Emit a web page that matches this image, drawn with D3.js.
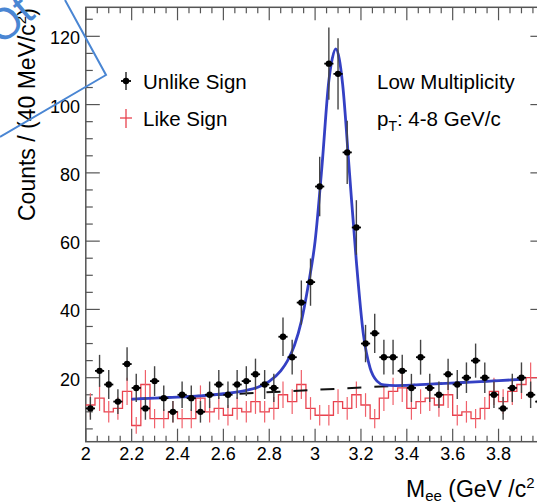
<!DOCTYPE html>
<html>
<head>
<meta charset="utf-8">
<script src="https://cdn.jsdelivr.net/npm/d3@7"></script>
<style>
  body { margin: 0; background: #fff; }
  svg { display: block; font-family: "Liberation Sans", Arial, sans-serif; }
</style>
</head>
<body>
<svg id="chart" width="537" height="503"></svg>
<script>
// bin centres (GeV/c^2), 40 MeV bins
const massBins = [2.02, 2.06, 2.10, 2.14, 2.18, 2.22, 2.26, 2.30, 2.34, 2.38,
                  2.42, 2.46, 2.50, 2.54, 2.58, 2.62, 2.66, 2.70, 2.74, 2.78,
                  2.82, 2.86, 2.90, 2.94, 2.98, 3.02, 3.06, 3.10, 3.14, 3.18,
                  3.22, 3.26, 3.30, 3.34, 3.38, 3.42, 3.46, 3.50, 3.54, 3.58,
                  3.62, 3.66, 3.70, 3.74, 3.78, 3.82, 3.86, 3.90, 3.94, 3.98];
const binHalfWidth = 0.02;

const unlikeSign = [11, 22, 18, 13, 24, 17, 11, 19, 14, 10,
                    15, 14, 10, 15, 18, 15, 18, 19, 21, 18,
                    17, 32, 26, 42, 48, 76, 112, 109, 86, 64,
                    30, 33, 26, 26, 22, 17, 26, 17, 15, 21,
                    18, 20, 25, 20, 15, 11, 17, 20, 15, 13];

const likeSign = [12, 14, 10, 11, 16, 6, 18, 8, 8, 10,
                  8, 8, 14, 10, 11, 9, 11, 10, 13, 10,
                  11, 15, 13, 18, 11, 9, 9, 13, 11, 15,
                  12, 8, 14, 16, 17, 11, 13, 14, 12, 15,
                  9, 10, 8, 11, 16, 13, 16, 18, 20, 20];

// fitted curve
const fitMass   = [2.20, 2.30, 2.40, 2.50, 2.60, 2.70, 2.75, 2.80, 2.85, 2.88,
                   2.91, 2.94, 2.97, 3.00, 3.03, 3.06, 3.075, 3.09, 3.105, 3.12,
                   3.15, 3.18, 3.21, 3.24, 3.27, 3.30, 3.35, 3.50, 3.70, 3.90];
const fitCounts = [13.7, 14.0, 14.3, 14.7, 15.3, 16.3, 17.2, 18.9, 22.0, 25.0,
                   29.5, 36.5, 47, 60, 82, 107, 113.5, 116.3, 113.5, 106,
                   80, 54, 33, 22.8, 19, 17.9, 17.7, 18.1, 18.8, 19.5];

// background component (dashed)
const bgMass   = [2.2, 3.9];
const bgCounts = [13.7, 19.5];

const xTickValues = [2, 2.2, 2.4, 2.6, 2.8, 3, 3.2, 3.4, 3.6, 3.8, 4];
const xTickLabels = ['2', '2.2', '2.4', '2.6', '2.8', '3', '3.2', '3.4', '3.6', '3.8'];
const yTickValues = [20, 40, 60, 80, 100, 120];

const svg = d3.select('#chart');

const x = d3.scaleLinear().domain([2, 4]).range([85.8, 544.4]);
const y = d3.scaleLinear().domain([1.25, 128.5]).range([441.7, 7.3]);

const axisColor = '#555';
const x0 = x.range()[0], x1 = x.range()[1];
const yb = y.range()[0], yt = y.range()[1];

// frame
const frame = svg.append('g');
frame.append('rect')
    .attr('x', x0).attr('y', yt)
    .attr('width', x1 - x0).attr('height', yb - yt)
    .attr('fill', 'none').attr('stroke', axisColor).attr('stroke-width', 1.5);

// x ticks (bottom + top), minor every 0.05
const xMinor = d3.range(2, 4.001, 0.05).map(v => +v.toFixed(2));
xMinor.forEach(v => {
    const major = xTickValues.some(t => Math.abs(t - v) < 1e-6);
    const len = major ? 13 : 6;
    frame.append('line').attr('x1', x(v)).attr('x2', x(v)).attr('y1', yb).attr('y2', yb - len)
        .attr('stroke', axisColor).attr('stroke-width', 1.2);
    frame.append('line').attr('x1', x(v)).attr('x2', x(v)).attr('y1', yt).attr('y2', yt + len)
        .attr('stroke', axisColor).attr('stroke-width', 1.2);
});
// y ticks (left + right), minor every 5
const yMinor = d3.range(5, 126, 5);
yMinor.forEach(v => {
    const major = yTickValues.includes(v);
    const len = major ? 14 : 7;
    frame.append('line').attr('x1', x0).attr('x2', x0 + len).attr('y1', y(v)).attr('y2', y(v))
        .attr('stroke', axisColor).attr('stroke-width', 1.2);
    frame.append('line').attr('x1', x1).attr('x2', x1 - len).attr('y1', y(v)).attr('y2', y(v))
        .attr('stroke', axisColor).attr('stroke-width', 1.2);
});

// tick labels
svg.append('g').selectAll('text')
    .data(xTickLabels)
    .enter().append('text')
    .attr('x', d => x(+d)).attr('y', 460)
    .attr('text-anchor', 'middle')
    .style('font-size', '18px')
    .text(d => d);

svg.append('g').selectAll('text')
    .data(yTickValues)
    .enter().append('text')
    .attr('x', 80).attr('y', d => y(d)).attr('dy', '0.44em')
    .attr('text-anchor', 'end')
    .style('font-size', '18px')
    .text(d => d);

// like-sign histogram (red steps + error bars)
const red = '#e8424e';
const stepPts = massBins.map((m, i) => [m - binHalfWidth, likeSign[i]]);
stepPts.push([massBins[massBins.length - 1] + binHalfWidth, likeSign[likeSign.length - 1]]);
svg.append('path')
    .attr('d', d3.line().x(d => x(d[0])).y(d => y(d[1])).curve(d3.curveStepAfter)(stepPts))
    .attr('fill', 'none').attr('stroke', red).attr('stroke-width', 1.3);
svg.append('g').selectAll('line')
    .data(massBins.map((m, i) => [m, likeSign[i]]))
    .enter().append('line')
    .attr('x1', d => x(d[0])).attr('x2', d => x(d[0]))
    .attr('y1', d => y(d[1] - Math.sqrt(d[1]))).attr('y2', d => y(d[1] + Math.sqrt(d[1])))
    .attr('stroke', '#f0606a').attr('stroke-width', 1.2);

// background (dashed)
svg.append('path')
    .attr('d', d3.line().x((d, i) => x(d)).y((d, i) => y(bgCounts[i]))(bgMass))
    .attr('fill', 'none').attr('stroke', '#111').attr('stroke-width', 2)
    .attr('stroke-dasharray', '14,13');

// fit
svg.append('path')
    .attr('d', d3.line().x(d => x(d)).y((d, i) => y(fitCounts[i])).curve(d3.curveMonotoneX)(fitMass))
    .attr('fill', 'none').attr('stroke', '#3440c4').attr('stroke-width', 2.8);

// unlike-sign points
const pts = svg.append('g').selectAll('g')
    .data(massBins.map((m, i) => [m, unlikeSign[i]]))
    .enter().append('g');
pts.append('line')
    .attr('x1', d => x(d[0])).attr('x2', d => x(d[0]))
    .attr('y1', d => y(d[1] - Math.sqrt(d[1]))).attr('y2', d => y(d[1] + Math.sqrt(d[1])))
    .attr('stroke', '#444').attr('stroke-width', 1.4);
pts.append('line')
    .attr('x1', d => x(d[0] - binHalfWidth)).attr('x2', d => x(d[0] + binHalfWidth))
    .attr('y1', d => y(d[1])).attr('y2', d => y(d[1]))
    .attr('stroke', '#000').attr('stroke-width', 1.8);
pts.append('circle')
    .attr('cx', d => x(d[0])).attr('cy', d => y(d[1])).attr('r', 3.2)
    .attr('fill', '#000');

// legend
const leg = svg.append('g');
leg.append('line').attr('x1', 126).attr('x2', 126).attr('y1', 72).attr('y2', 90).attr('stroke', '#222').attr('stroke-width', 1.4);
leg.append('line').attr('x1', 121).attr('x2', 131).attr('y1', 81).attr('y2', 81).attr('stroke', '#000').attr('stroke-width', 1.8);
leg.append('circle').attr('cx', 126).attr('cy', 81).attr('r', 3.2).attr('fill', '#000');
leg.append('text').attr('x', 143).attr('y', 89).style('font-size', '20.5px').text('Unlike Sign');

leg.append('line').attr('x1', 126).attr('x2', 126).attr('y1', 109).attr('y2', 128).attr('stroke', red).attr('stroke-width', 1.3);
leg.append('line').attr('x1', 120).attr('x2', 132).attr('y1', 118).attr('y2', 118).attr('stroke', red).attr('stroke-width', 1.3);
leg.append('text').attr('x', 143).attr('y', 126).style('font-size', '20.5px').text('Like Sign');

leg.append('text').attr('x', 377).attr('y', 89).style('font-size', '20.5px').text('Low Multiplicity');
const pt = leg.append('text').attr('x', 377).attr('y', 126).style('font-size', '20.5px');
pt.append('tspan').text('p');
pt.append('tspan').attr('dy', 5).style('font-size', '14px').text('T');
pt.append('tspan').attr('dy', -5).text(': 4-8 GeV/c');

// axis titles
const xt = svg.append('text').attr('x', 406).attr('y', 497).style('font-size', '23px');
xt.append('tspan').text('M');
xt.append('tspan').attr('dy', 4).style('font-size', '15px').text('ee');
xt.append('tspan').attr('dy', -4).text(' (GeV /c');
xt.append('tspan').attr('dy', -9).style('font-size', '15px').text('2');

const yt2 = svg.append('text')
    .attr('transform', 'translate(35,221) rotate(-90)')
    .style('font-size', '23px');
yt2.append('tspan').text('Counts / (40 MeV/c');
yt2.append('tspan').attr('dy', -9).style('font-size', '15px').text('2');
yt2.append('tspan').attr('dy', 9).text(')');

// slide annotation overlay
const blue = '#4a86d3';
svg.append('polyline')
    .attr('points', '0,137 106,75 65,0')
    .attr('fill', 'none').attr('stroke', blue).attr('stroke-width', 2);
svg.append('text')
    .attr('transform', 'translate(1,46) rotate(-40)')
    .style('font-size', '44px').attr('fill', blue)
    .text('Ot');
</script>
</body>
</html>
